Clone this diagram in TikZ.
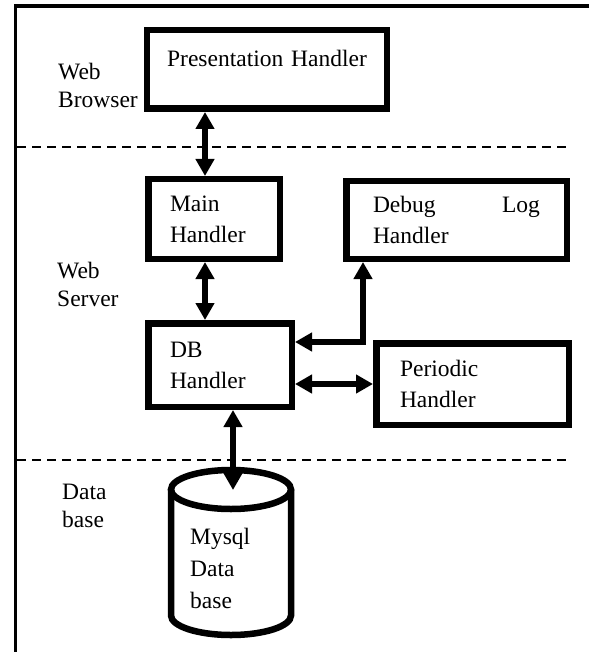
\documentclass[tikz,border=0pt]{standalone}
\usepackage{fontspec}
\setmainfont{Liberation Serif}
\usetikzlibrary{arrows.meta}
\tikzset{
  handler/.style={draw, line width=6.5pt, align=left, inner xsep=10pt, inner ysep=0pt},
  link/.style={line width=5.5pt, {Triangle[length=17pt,width=18pt]}-{Triangle[length=17pt,width=18pt]}},
  tier/.style={line width=2pt, dash pattern=on 9pt off 6pt},
  tierlabel/.style={align=left, anchor=base west, inner sep=0pt, font=\fontsize{23.5}{28}\selectfont},
}

\begin{document}
\begin{tikzpicture}[x=1pt, y=-1pt, font=\fontsize{23.5}{31}\selectfont]
  \useasboundingbox (0,0) rectangle (589,652);
  \draw[line width=3.5pt] (589,6) -- (15.5,6) -- (15.5,652);
  \draw[tier] (17,147) -- (570,147);
  \draw[tier] (17,460) -- (570,460);

  \node[tierlabel] (browser) at (58,108) {Web\\Browser};
  \node[tierlabel] (server) at (57,306) {Web\\Server};
  \node[tierlabel] (database) at (62,527) {Data\\base};

  \node[handler, minimum width=237.5pt, minimum height=78.5pt, text width=220pt, align=center, text depth=23pt] (pres) at (267,69.5) {Presentation Handler};
  \node[handler, minimum width=131.5pt, minimum height=79.5pt, text width=88pt] (main) at (214,219) {Main\\Handler};
  \node[handler, minimum width=220.5pt, minimum height=77.5pt, text width=167pt] (debug) at (456.5,220) {Debug\hfill Log\\Handler};
  \node[handler, minimum width=143.5pt, minimum height=83.5pt, text width=100pt] (db) at (220,365) {DB\\Handler};
  \node[handler, minimum width=192.5pt, minimum height=81.5pt, text width=145pt] (periodic) at (472.5,384) {Periodic\\Handler};

  \draw[line width=6.5pt] (171,489.5) -- (171,615.5) arc[start angle=180, end angle=360, x radius=60pt, y radius=19.5pt] -- (291,489.5);
  \draw[line width=6.5pt] (231,489.5) ellipse [x radius=60pt, y radius=19.5pt];
  \coordinate (cyltop) at (233,490);
  \node[tierlabel, font=\fontsize{23.5}{32}\selectfont] (mysql) at (190,608) {Mysql\\Data\\base};

  \draw[link] ([xshift=-9pt]main.north |- pres.south) -- ([xshift=-9pt]main.north);
  \draw[link] ([xshift=-9pt]main.south) -- ([xshift=-9pt]main.south |- db.north);
  \draw[link] ([yshift=23pt]db.east) -| ([xshift=-93.5pt]debug.south);
  \draw[link] (periodic.west -| db.east) -- (periodic.west);
  \draw[link] (cyltop |- db.south) -- (cyltop);
\end{tikzpicture}
\end{document}
